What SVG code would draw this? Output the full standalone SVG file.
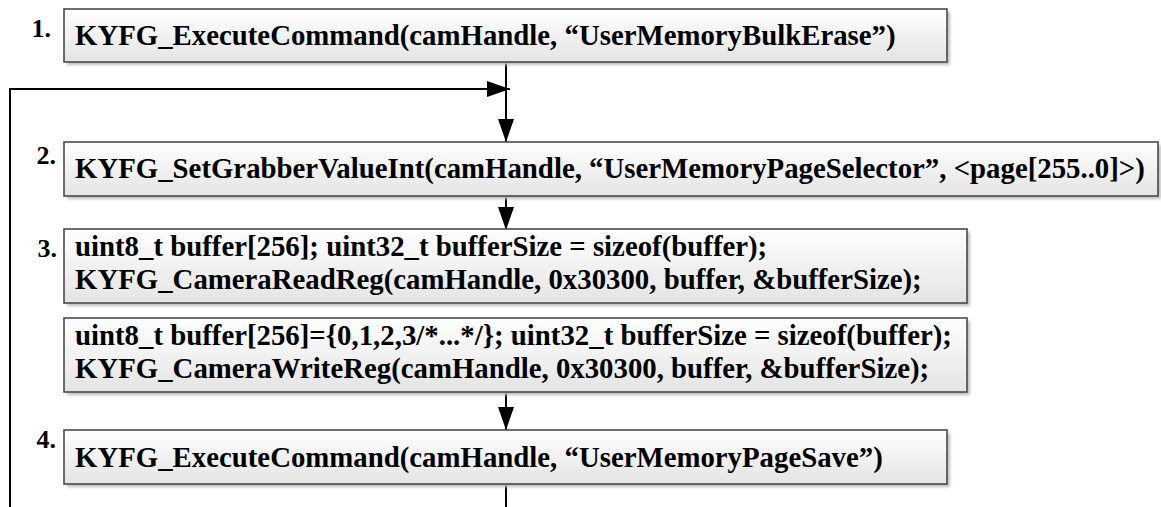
<svg xmlns="http://www.w3.org/2000/svg" width="1161" height="507" viewBox="0 0 1161 507">
<defs>
<linearGradient id="g" x1="0" y1="0" x2="0" y2="1">
<stop offset="0" stop-color="#ffffff"/>
<stop offset="1" stop-color="#e4e4e4"/>
</linearGradient>
<filter id="sh" x="-5%" y="-20%" width="110%" height="140%">
<feGaussianBlur stdDeviation="1.5"/>
</filter>
<marker id="ah" markerUnits="userSpaceOnUse" markerWidth="24" markerHeight="18" refX="23" refY="8" orient="auto">
<path d="M0,0 L23,8 L0,16 Z" fill="#000"/>
</marker>
</defs>
<style>
.box{fill:url(#g);stroke:#4a4a4a;stroke-width:1.6}
.shadow{fill:#bdbdbd;filter:url(#sh)}
.t{font-size:28.8px;font-weight:bold;fill:#000}
.n{font-size:26px;font-weight:bold;text-anchor:end;fill:#000}
.c{fill:none;stroke:#000;stroke-width:2}
</style>
<g id="connectors">
<path class="c" d="M506,62 V142" marker-end="url(#ah)"/>
<path class="c" d="M506,484 V530 H10 V89 H510" marker-end="url(#ah)"/>
<path class="c" d="M506,196 V230" marker-end="url(#ah)"/>
<path class="c" d="M506,392 V430" marker-end="url(#ah)"/>
</g>
<g id="node1" font-family="'Liberation Serif'">
<rect class="shadow" x="67" y="12" width="883" height="53"/>
<rect class="box" x="64" y="9" width="883" height="53"/>
<text class="n" x="51" y="37">1.</text>
<text class="t" x="75" y="45">KYFG_ExecuteCommand(camHandle, “UserMemoryBulkErase”)</text>
</g>
<g id="node2" font-family="'Liberation Serif'">
<rect class="shadow" x="67" y="145" width="1094" height="54"/>
<rect class="box" x="64" y="142" width="1094" height="54"/>
<text class="n" x="56" y="164">2.</text>
<text class="t" x="75" y="178">KYFG_SetGrabberValueInt(camHandle, “UserMemoryPageSelector”, &lt;page[255..0]&gt;)</text>
</g>
<g id="node3" font-family="'Liberation Serif'">
<rect class="shadow" x="67" y="232" width="903" height="74"/>
<rect class="box" x="64" y="229" width="903" height="74"/>
<text class="n" x="57" y="257">3.</text>
<text class="t" x="75" y="256">uint8_t buffer[256]; uint32_t bufferSize = sizeof(buffer);</text>
<text class="t" x="75" y="289">KYFG_CameraReadReg(camHandle, 0x30300, buffer, &amp;bufferSize);</text>
</g>
<g id="node3b" font-family="'Liberation Serif'">
<rect class="shadow" x="67" y="321" width="903" height="74"/>
<rect class="box" x="64" y="318" width="903" height="74"/>
<text class="t" x="75" y="345">uint8_t buffer[256]={0,1,2,3/*...*/}; uint32_t bufferSize = sizeof(buffer);</text>
<text class="t" x="75" y="378">KYFG_CameraWriteReg(camHandle, 0x30300, buffer, &amp;bufferSize);</text>
</g>
<g id="node4" font-family="'Liberation Serif'">
<rect class="shadow" x="67" y="433" width="883" height="54"/>
<rect class="box" x="64" y="430" width="883" height="54"/>
<text class="n" x="56" y="448">4.</text>
<text class="t" x="75" y="467">KYFG_ExecuteCommand(camHandle, “UserMemoryPageSave”)</text>
</g>
</svg>
